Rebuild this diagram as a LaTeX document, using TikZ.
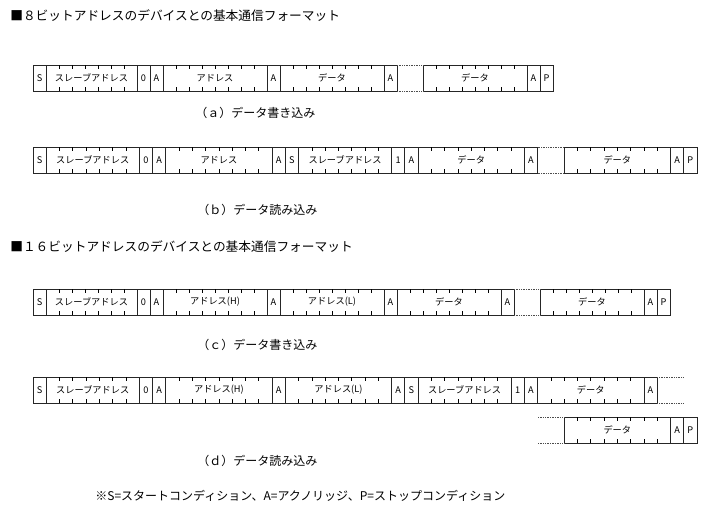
\documentclass[tikz,border=0pt]{standalone}
\usepackage{fontspec}
\setmainfont{Noto Sans CJK JP}
\usetikzlibrary{calc,positioning}

\newlength{\ua}\setlength{\ua}{13pt}
\newlength{\ub}\setlength{\ub}{13.28pt}
\newlength{\ga}\setlength{\ga}{2\ua}
\newlength{\gb}\setlength{\gb}{2\ub}

%petits traits entre les bits
\newcommand{\bitmarks}[2]{%
  \pgfmathtruncatemacro{\lastbit}{#2-1}
  \foreach \i in {1,...,\lastbit}{
    \draw ($(#1.north west)!\i/#2!(#1.north east)$) -- ++(0,-4pt);
    \draw ($(#1.south west)!\i/#2!(#1.south east)$) -- ++(0,4pt);
  }}

\begin{document}
\begin{tikzpicture}[x=1pt,y=-1pt,node distance=0pt,line width=0.7pt,
  fld/.style={draw=black!85,minimum height=26pt,inner sep=0pt,outer sep=0pt,font=\fontsize{9.2}{10}\selectfont},
  w/.style={minimum width=#1},
  gapline/.style={densely dotted,draw=black!70},
  title/.style={anchor=west,inner sep=0pt,font=\fontsize{12.7}{15}\selectfont},
  caption/.style={anchor=west,inner sep=0pt,font=\fontsize{12}{14}\selectfont}]

    \useasboundingbox (0,0) rectangle (713,517);

	%Titres
    \node[title] (head8) at (10,16) {■８ビットアドレスのデバイスとの基本通信フォーマット};
    \node[title] (head16) at (10,247) {■１６ビットアドレスのデバイスとの基本通信フォーマット};

    %(a)
    \node[fld,w=\ua,anchor=north west] (aS) at (33,65) {S};
    \node[fld,w=7*\ua,right=of aS] (aSA) {スレーブアドレス};
    \node[fld,w=\ua,right=of aSA] (aW) {0};
    \node[fld,w=\ua,right=of aW] (aA1) {A};
    \node[fld,w=8*\ua,right=of aA1] (aAD) {アドレス};
    \node[fld,w=\ua,right=of aAD] (aA2) {A};
    \node[fld,w=8*\ua,right=of aA2] (aD1) {データ};
    \node[fld,w=\ua,right=of aD1] (aA3) {A};
    \node[fld,w=8*\ua,right=\ga of aA3] (aD2) {データ};
    \node[fld,w=\ua,right=of aD2] (aA4) {A};
    \node[fld,w=\ua,right=of aA4] (aP) {P};
    \draw[gapline] (aA3.north east) -- (aD2.north west) (aA3.south east) -- (aD2.south west);
    \bitmarks{aSA}{7} \bitmarks{aAD}{8} \bitmarks{aD1}{8} \bitmarks{aD2}{8}
    \node[caption] (capA) at (195,113) {（ａ）データ書き込み};

    %(b)
    \node[fld,w=\ub,anchor=north west] (bS) at (33,147) {S};
    \node[fld,w=7*\ub,right=of bS] (bSA) {スレーブアドレス};
    \node[fld,w=\ub,right=of bSA] (bW) {0};
    \node[fld,w=\ub,right=of bW] (bA1) {A};
    \node[fld,w=8*\ub,right=of bA1] (bAD) {アドレス};
    \node[fld,w=\ub,right=of bAD] (bA2) {A};
    \node[fld,w=\ub,right=of bA2] (bS2) {S};
    \node[fld,w=7*\ub,right=of bS2] (bSA2) {スレーブアドレス};
    \node[fld,w=\ub,right=of bSA2] (bR) {1};
    \node[fld,w=\ub,right=of bR] (bA3) {A};
    \node[fld,w=8*\ub,right=of bA3] (bD1) {データ};
    \node[fld,w=\ub,right=of bD1] (bA4) {A};
    \node[fld,w=8*\ub,right=\gb of bA4] (bD2) {データ};
    \node[fld,w=\ub,right=of bD2] (bA5) {A};
    \node[fld,w=\ub,right=of bA5] (bP) {P};
    \draw[gapline] (bA4.north east) -- (bD2.north west) (bA4.south east) -- (bD2.south west);
    \bitmarks{bSA}{7} \bitmarks{bAD}{8} \bitmarks{bSA2}{7} \bitmarks{bD1}{8} \bitmarks{bD2}{8}
    \node[caption] (capB) at (197,210) {（ｂ）データ読み込み};

    %(c)
    \node[fld,w=\ua,anchor=north west] (cS) at (33,289) {S};
    \node[fld,w=7*\ua,right=of cS] (cSA) {スレーブアドレス};
    \node[fld,w=\ua,right=of cSA] (cW) {0};
    \node[fld,w=\ua,right=of cW] (cA1) {A};
    \node[fld,w=8*\ua,right=of cA1] (cAH) {アドレス(H)};
    \node[fld,w=\ua,right=of cAH] (cA2) {A};
    \node[fld,w=8*\ua,right=of cA2] (cAL) {アドレス(L)};
    \node[fld,w=\ua,right=of cAL] (cA3) {A};
    \node[fld,w=8*\ua,right=of cA3] (cD1) {データ};
    \node[fld,w=\ua,right=of cD1] (cA4) {A};
    \node[fld,w=8*\ua,right=\ga of cA4] (cD2) {データ};
    \node[fld,w=\ua,right=of cD2] (cA5) {A};
    \node[fld,w=\ua,right=of cA5] (cP) {P};
    \draw[gapline] (cA4.north east) -- (cD2.north west) (cA4.south east) -- (cD2.south west);
    \bitmarks{cSA}{7} \bitmarks{cAH}{8} \bitmarks{cAL}{8} \bitmarks{cD1}{8} \bitmarks{cD2}{8}
    \node[caption] (capC) at (197,345) {（ｃ）データ書き込み};

    %(d)
    \node[fld,w=\ub,anchor=north west] (dS) at (33,377) {S};
    \node[fld,w=7*\ub,right=of dS] (dSA) {スレーブアドレス};
    \node[fld,w=\ub,right=of dSA] (dW) {0};
    \node[fld,w=\ub,right=of dW] (dA1) {A};
    \node[fld,w=8*\ub,right=of dA1] (dAH) {アドレス(H)};
    \node[fld,w=\ub,right=of dAH] (dA2) {A};
    \node[fld,w=8*\ub,right=of dA2] (dAL) {アドレス(L)};
    \node[fld,w=\ub,right=of dAL] (dA3) {A};
    \node[fld,w=\ub,right=of dA3] (dS2) {S};
    \node[fld,w=7*\ub,right=of dS2] (dSA2) {スレーブアドレス};
    \node[fld,w=\ub,right=of dSA2] (dR) {1};
    \node[fld,w=\ub,right=of dR] (dA4) {A};
    \node[fld,w=8*\ub,right=of dA4] (dD1) {データ};
    \node[fld,w=\ub,right=of dD1] (dA5) {A};
    \node[fld,w=8*\ub,anchor=north west] (dD2) at ($(dD1.south west)+(\gb,-14pt)$) {データ};
    \node[fld,w=\ub,right=of dD2] (dA6) {A};
    \node[fld,w=\ub,right=of dA6] (dP) {P};
    \draw[gapline] (dA5.north east) -- ++(\gb,0pt) (dA5.south east) -- ++(\gb,0pt);
    \draw[gapline] (dD2.north west) -- ++(-\gb,0pt) (dD2.south west) -- ++(-\gb,0pt);
    \bitmarks{dSA}{7} \bitmarks{dAH}{8} \bitmarks{dAL}{8} \bitmarks{dSA2}{7} \bitmarks{dD1}{8} \bitmarks{dD2}{8}
    \node[caption] (capD) at (197,461) {（ｄ）データ読み込み};

    %Note
    \node[caption] (note) at (95,496) {※S=スタートコンディション、A=アクノリッジ、P=ストップコンディション};

\end{tikzpicture}
\end{document}
